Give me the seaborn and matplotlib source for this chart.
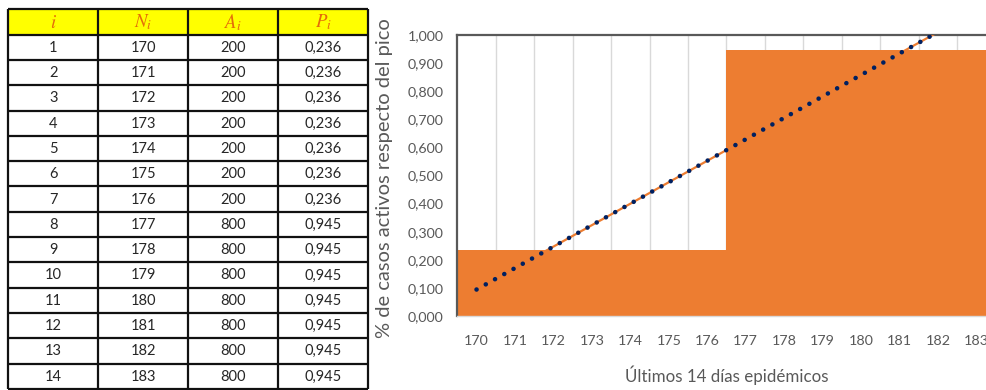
import numpy as np
import pandas as pd
import matplotlib
matplotlib.use("Agg")
import matplotlib.pyplot as plt
import seaborn as sns

# Data: last 14 epidemic days
idx = [1, 2, 3, 4, 5, 6, 7, 8, 9, 10, 11, 12, 13, 14]
days = [170, 171, 172, 173, 174, 175, 176, 177, 178, 179, 180, 181, 182, 183]
active = [200, 200, 200, 200, 200, 200, 200, 800, 800, 800, 800, 800, 800, 800]
share = [0.236, 0.236, 0.236, 0.236, 0.236, 0.236, 0.236,
         0.945, 0.945, 0.945, 0.945, 0.945, 0.945, 0.945]
headers = [r"$i$", r"$N_i$", r"$A_i$", r"$P_i$"]
y_ticks = [0.0, 0.1, 0.2, 0.3, 0.4, 0.5, 0.6, 0.7, 0.8, 0.9, 1.0]

sns.set_theme(style="white")
plt.rcParams["font.family"] = ["Lato", "DejaVu Sans"]
plt.rcParams["mathtext.fontset"] = "stix"

ORANGE = "#ED7D31"
NAVY = "#002060"
GRAY = "#595959"

W, H = 986, 390
fig = plt.figure(figsize=(W / 100, H / 100), dpi=100)
fig.patch.set_facecolor("white")

# ---------------- table ----------------
t_left, t_right, t_top, row_h = 8.3, 368, 9.3, 25.3
n_rows = len(days) + 1
t_bottom = t_top + n_rows * row_h
axt = fig.add_axes([t_left / W, 1 - t_bottom / H, (t_right - t_left) / W, (t_bottom - t_top) / H])
axt.set_xlim(0, 4)
axt.set_ylim(n_rows, 0)
axt.axis("off")

axt.add_patch(plt.Rectangle((0, 0), 4, 1, facecolor="#FFFF00", edgecolor="none", zorder=0))
for c, h in enumerate(headers):
    axt.text(c + 0.5, 0.52, h, ha="center", va="center", fontsize=13.5,
             color="#E46C0A", style="italic")

fmt = lambda v: f"{v:.3f}".replace(".", ",")
for r in range(len(days)):
    vals = [str(idx[r]), str(days[r]), str(active[r]), fmt(share[r])]
    for c, v in enumerate(vals):
        axt.text(c + 0.5, r + 1.52, v, ha="center", va="center", fontsize=10.5, color="#262626")

for r in range(n_rows + 1):
    axt.plot([0, 4], [r, r], color="#111111", lw=1.6, clip_on=False, solid_capstyle="butt")
for c in range(5):
    axt.plot([c, c], [0, n_rows], color="#111111", lw=1.6, clip_on=False, solid_capstyle="butt")

# ---------------- chart ----------------
a_left, a_top, a_bottom = 457.3, 35, 316
step = 38.45
a_right = a_left + step * len(days)
ax = fig.add_axes([a_left / W, 1 - a_bottom / H, (a_right - a_left) / W, (a_bottom - a_top) / H])

df = pd.DataFrame({"day": [str(d) for d in days], "share": share})
sns.barplot(data=df, x="day", y="share", color=ORANGE, saturation=1, width=1.0,
            linewidth=0, edgecolor="none", ax=ax, zorder=2)

# linear trend over the day positions
pos = np.arange(len(share))
slope, intercept = np.polyfit(pos, share, 1)
trend = slope * pos + intercept
ax.plot(pos, trend, color=ORANGE, lw=1.6, zorder=3)
ax.plot(pos, trend, color=NAVY, lw=3.3, linestyle=(0, (0.01, 2.3)),
        dash_capstyle="round", zorder=4)

ax.set_xlim(-0.5, len(days) - 0.5)
ax.set_ylim(0, 1.0)
ax.set_yticks(y_ticks)
ax.set_yticklabels([fmt(v) for v in y_ticks])
ax.set_xticks(pos)
ax.set_xticks(pos[:-1] + 0.5, minor=True)
ax.grid(False)
ax.grid(True, which="minor", axis="x", color="#D9D9D9", lw=1.0, zorder=0)
ax.set_axisbelow(True)

ax.tick_params(axis="both", which="both", length=0, colors=GRAY, labelsize=10.3)
ax.tick_params(axis="x", pad=14)
ax.tick_params(axis="y", pad=10)

for s in ["left", "top"]:
    ax.spines[s].set_visible(True)
    ax.spines[s].set_color(GRAY)
    ax.spines[s].set_linewidth(1.6)
ax.spines["bottom"].set_color("#D9D9D9")
ax.spines["bottom"].set_linewidth(1.0)
ax.spines["right"].set_visible(False)

ax.set_xlabel("Últimos 14 días epidémicos", fontsize=12.2, color=GRAY)
ax.set_ylabel("% de casos activos respecto del pico", fontsize=14.5, color=GRAY)
ax.xaxis.set_label_coords(0.5, -0.175)
ax.yaxis.set_label_coords((393 - a_left) / (a_right - a_left), 0.49)

fig.savefig("out.png", dpi=100, facecolor="white")
